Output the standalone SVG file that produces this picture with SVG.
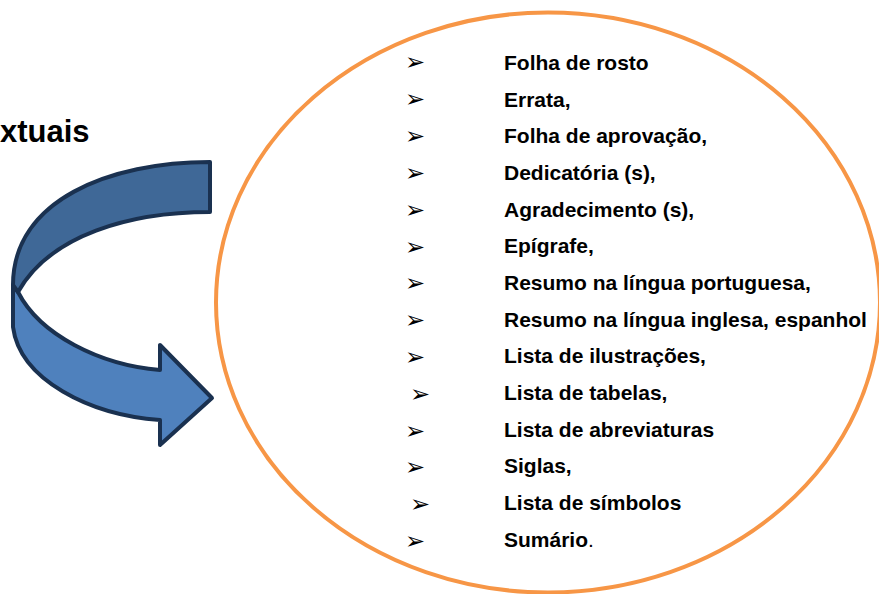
<svg xmlns="http://www.w3.org/2000/svg" width="879" height="594" viewBox="0 0 879 594">
<style>
.item{font-family:"Liberation Sans",Arial,sans-serif;font-weight:bold;font-size:21px;fill:#000}
.bul{font-family:"DejaVu Sans",sans-serif;font-size:24px;fill:#000}
.arr{stroke:#1A3150;stroke-width:4;stroke-linejoin:round}
</style>
<rect width="879" height="594" fill="#fff"/>
<g id="title">
<text x="0" y="142" style="font-family:'Liberation Sans',Arial,sans-serif;font-weight:bold;font-size:31px">xtuais</text>
</g>
<g id="curved-arrow">
<path class="arr" fill="#4F81BD" d="M13,285 L13,327 C20,380 90,415 160,420 L160,445 L212,398 L160,345 L160,370 C100,365 40,335 18,292 Z"/>
<path class="arr" fill="#3F6897" d="M210,162 C110,162 13,200 13,285 L18,292 C50,235 130,212 210,212 Z"/>
</g>
<g id="list-ellipse">
<ellipse cx="548" cy="302.5" rx="332" ry="290" fill="none" stroke="#F79646" stroke-width="4"/>
<g class="bul">
<text x="405" y="70">➢</text>
<text x="405" y="107">➢</text>
<text x="405" y="144">➢</text>
<text x="405" y="181">➢</text>
<text x="405" y="218">➢</text>
<text x="405" y="255">➢</text>
<text x="405" y="291">➢</text>
<text x="405" y="328">➢</text>
<text x="405" y="365">➢</text>
<text x="410" y="402">➢</text>
<text x="405" y="439">➢</text>
<text x="405" y="475">➢</text>
<text x="410" y="512">➢</text>
<text x="405" y="549">➢</text>
</g>
<g class="item">
<text x="504" y="70">Folha de rosto</text>
<text x="504" y="107">Errata,</text>
<text x="504" y="143">Folha de aprovação,</text>
<text x="504" y="180">Dedicatória (s),</text>
<text x="504" y="217">Agradecimento (s),</text>
<text x="504" y="253">Epígrafe,</text>
<text x="504" y="290">Resumo na língua portuguesa,</text>
<text x="504" y="327">Resumo na língua inglesa, espanhol</text>
<text x="504" y="363">Lista de ilustrações,</text>
<text x="504" y="400">Lista de tabelas,</text>
<text x="504" y="437">Lista de abreviaturas</text>
<text x="504" y="473">Siglas,</text>
<text x="504" y="510">Lista de símbolos</text>
<text x="504" y="547">Sumário<tspan font-weight="normal">.</tspan></text>
</g>
</g>
</svg>
